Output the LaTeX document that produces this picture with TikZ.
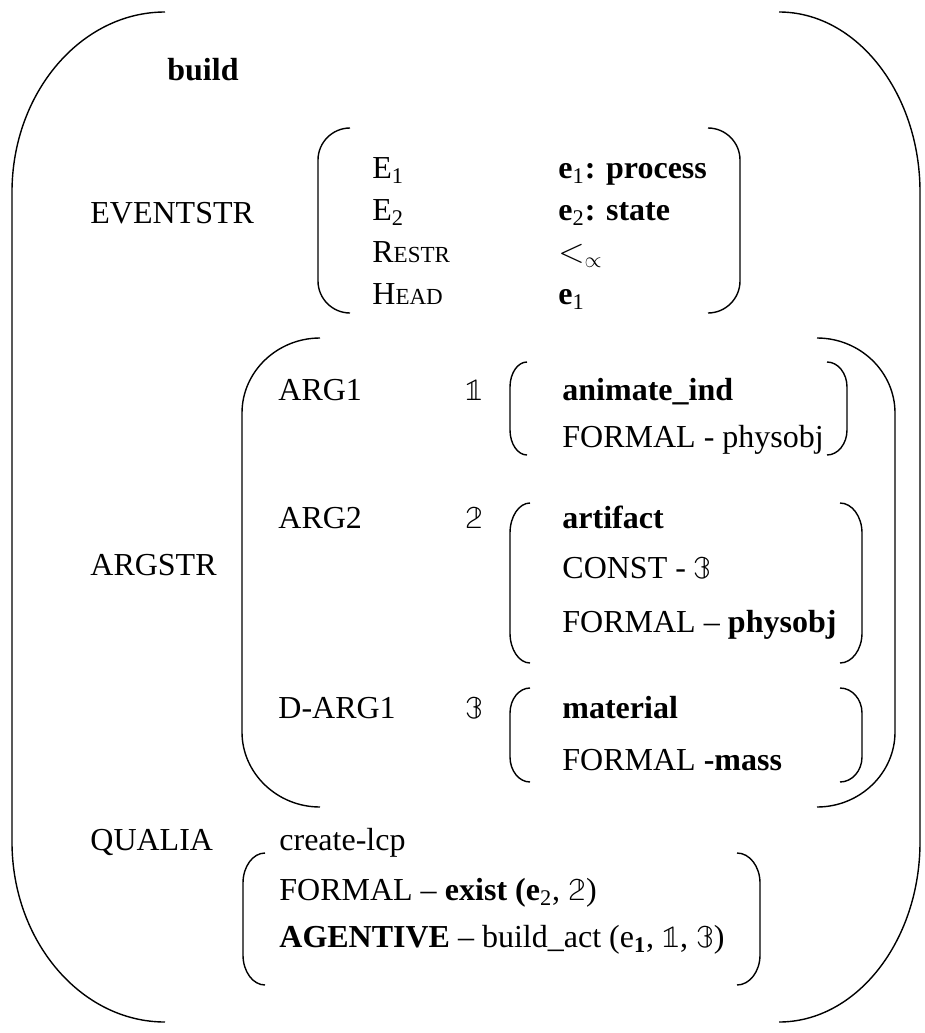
\documentclass[tikz,border=0pt]{standalone}
\usepackage{fontspec}
\setmainfont{Liberation Serif}
\newfontfamily\dsfont{latinmodern-math.otf}
\usetikzlibrary{calc}

\newcommand\dsone{{\dsfont\symbol{"1D7D9}}}
\newcommand\dstwo{{\dsfont\symbol{"1D7DA}}}
\newcommand\dsthree{{\dsfont\symbol{"1D7DB}}}
\newcommand\fsc[2]{#1{\fontsize{11.5}{13}\selectfont #2}}

% one side of a bracket: tip x, line x, top y, bottom y, bend
\newcommand\brak[5]{%
\draw[brk] (#1,#3) .. controls ($(#1,#3)!0.55!(#2,#3)$) and ($(#2,#3+#5)!0.55!(#2,#3)$) .. (#2,#3+#5)
 -- (#2,#4-#5) .. controls ($(#2,#4-#5)!0.55!(#2,#4)$) and ($(#1,#4)!0.55!(#2,#4)$) .. (#1,#4);}

\begin{document}
\begin{tikzpicture}[x=0.5pt,y=-0.5pt,
  brk/.style={line width=0.7pt},
  lbl/.style={anchor=base west,inner sep=0pt,font=\fontsize{16}{19}\selectfont}]
\useasboundingbox (0,0) rectangle (925,1033);

\def\keyx{90}
\def\evx{372}
\def\valx{558}
\def\argx{278}
\def\numx{465}
\def\inx{562}

% outer
\brak{165}{12}{12}{1022}{180}
\brak{779}{920}{12}{1022}{180}
\node[lbl] (build) at (167,80) {\textbf{build}};

% eventstr
\node[lbl] (eventstr) at (\keyx,223) {EVENTSTR};
\brak{350}{318}{128}{313}{32}
\brak{708}{740}{128}{313}{32}
\node[lbl] (eOne) at (\evx,178) {E\textsubscript{1}};
\node[lbl] (eOneVal) at (\valx,178) {\textbf{e}\textsubscript{1}\textbf{: process}};
\node[lbl] (eTwo) at (\evx,220) {E\textsubscript{2}};
\node[lbl] (eTwoVal) at (\valx,220) {\textbf{e}\textsubscript{2}\textbf{: state}};
\node[lbl] (restr) at (\evx,262) {\fsc{R}{ESTR}};
\node[lbl] (restrVal) at (\valx,262) {$<_{\propto}$};
\node[lbl] (head) at (\evx,304) {\fsc{H}{EAD}};
\node[lbl] (headVal) at (\valx,304) {\textbf{e}\textsubscript{1}};

% argstr
\node[lbl] (argstr) at (\keyx,575) {ARGSTR};
\brak{320}{242}{338}{807}{75}
\brak{817}{895}{338}{807}{75}

\node[lbl] (argOne) at (\argx,400) {ARG1};
\node[lbl] (argOneNum) at (\numx,400) {\dsone};
\brak{527}{510}{362}{455}{25}
\brak{827}{847}{362}{455}{25}
\node[lbl] (argOneA) at (\inx,400) {\textbf{animate\_ind}};
\node[lbl] (argOneB) at (\inx,447) {FORMAL - physobj};

\node[lbl] (argTwo) at (\argx,528) {ARG2};
\node[lbl] (argTwoNum) at (\numx,528) {\dstwo};
\brak{530}{510}{503}{663}{30}
\brak{840}{862}{503}{663}{30}
\node[lbl] (argTwoA) at (\inx,528) {\textbf{artifact}};
\node[lbl] (argTwoB) at (\inx,578) {CONST - \dsthree};
\node[lbl] (argTwoC) at (\inx,632) {FORMAL -- \textbf{physobj}};

\node[lbl] (dArg) at (\argx,718) {D-ARG1};
\node[lbl] (dArgNum) at (\numx,718) {\dsthree};
\brak{530}{510}{688}{782}{25}
\brak{840}{862}{688}{782}{25}
\node[lbl] (dArgA) at (\inx,718) {\textbf{material}};
\node[lbl] (dArgB) at (\inx,770) {FORMAL \textbf{-mass}};

% qualia
\node[lbl] (qualia) at (\keyx,850) {QUALIA};
\node[lbl] (lcp) at (279,850) {create-lcp};
\brak{265}{243}{853}{985}{30}
\brak{737}{760}{853}{985}{30}
\node[lbl] (formal) at (279,900) {FORMAL -- \textbf{exist (e}\textsubscript{2}, \dstwo)};
\node[lbl] (agentive) at (279,947) {\textbf{AGENTIVE} -- build\_act (e\textsubscript{\textbf{1}}, \dsone, \dsthree)};
\end{tikzpicture}
\end{document}
